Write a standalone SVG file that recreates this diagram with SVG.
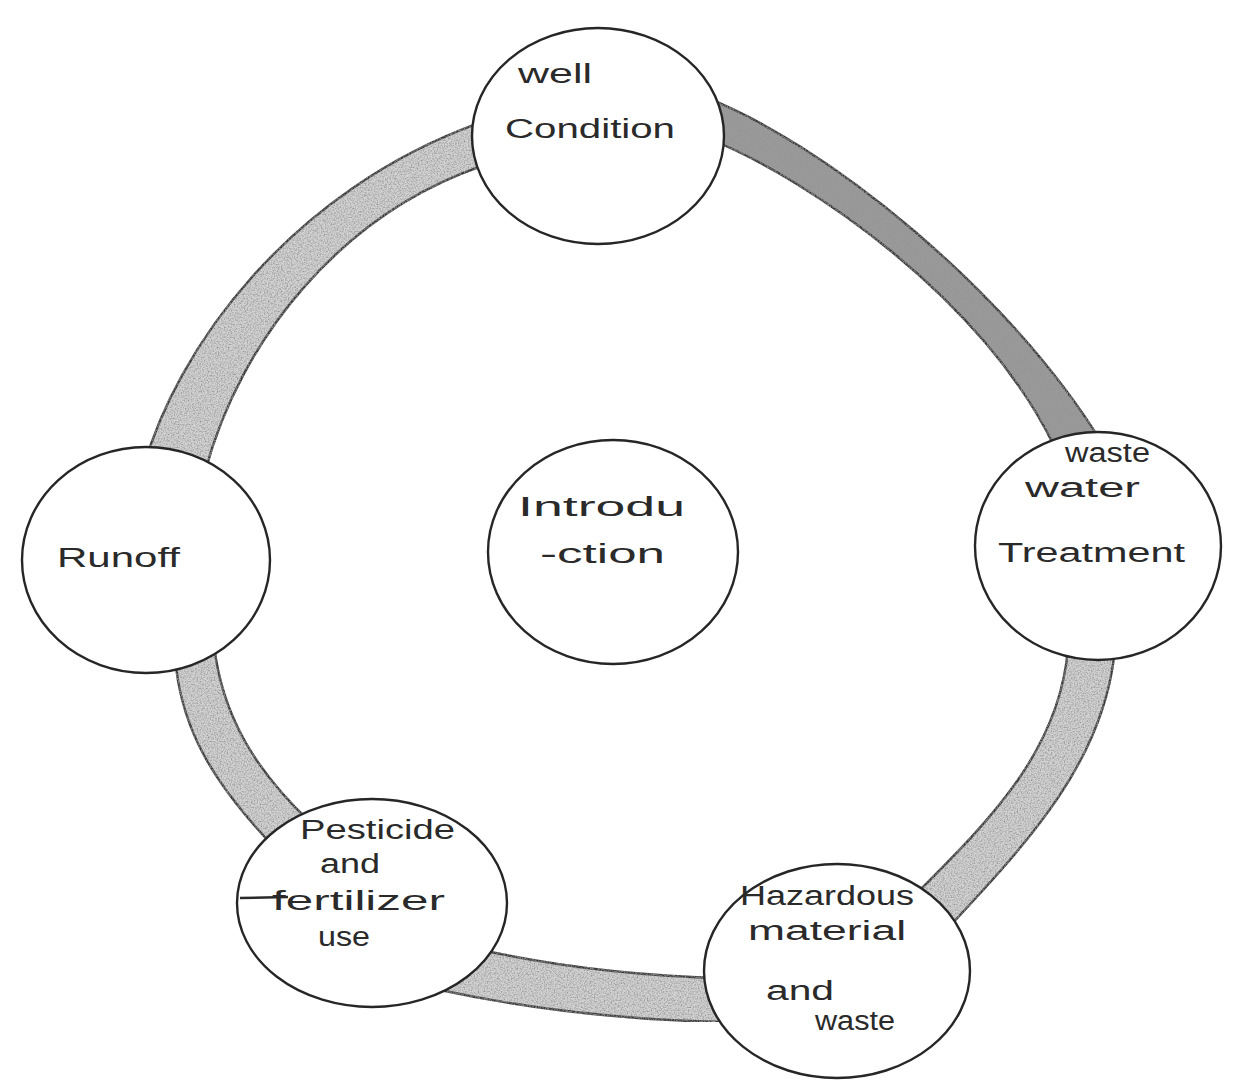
<svg xmlns="http://www.w3.org/2000/svg" width="1239" height="1090" viewBox="0 0 1239 1090">
<style>
.band{fill:#d2d2d2;stroke:#3a3a3a;stroke-width:2.4;stroke-linejoin:round}
.dark{fill:#9a9a9a}
.node{fill:#ffffff;stroke:#262626;stroke-width:2.4}
.lbl{font-family:"Liberation Sans","DejaVu Sans",sans-serif;font-size:27px;fill:#2a2a2a}
</style>
<defs>
<filter id="grain" x="0" y="0" width="1" height="1">
<feTurbulence type="fractalNoise" baseFrequency="0.7" numOctaves="2" seed="3" result="n"/>
<feColorMatrix in="n" type="matrix" values="0 0 0 0 0.3  0 0 0 0 0.3  0 0 0 0 0.3  0 0 0 2.2 -0.85" result="g"/>
<feComposite in="g" in2="SourceGraphic" operator="in" result="t"/>
<feMerge><feMergeNode in="SourceGraphic"/><feMergeNode in="t"/></feMerge>
</filter>
</defs>
<rect width="1239" height="1090" fill="#ffffff"/>
<g id="connectors">
<path class="band" filter="url(#grain)" d="M143,470 C175,350 290,190 482,122 L482,166 C340,215 240,340 205,472 Z"/>
<path class="band dark" filter="url(#grain)" d="M702,96 C820,140 1010,290 1105,448 L1055,448 C985,300 810,180 712,140 Z"/>
<path class="band" filter="url(#grain)" d="M1115,648 C1105,760 1030,840 948,928 L918,892 C990,820 1060,750 1068,648 Z"/>
<path class="band" filter="url(#grain)" d="M175,655 C180,730 215,785 275,848 L310,822 C255,770 222,715 214,645 Z"/>
<path class="band" filter="url(#grain)" d="M468,947 Q590,975 724,978 L730,1022 Q580,1020 440,990 Z"/>
</g>
<g id="node-well-condition">
<ellipse class="node" cx="598" cy="136" rx="126" ry="108"/>
<text class="lbl" x="518" y="83" textLength="74" lengthAdjust="spacingAndGlyphs">well</text>
<text class="lbl" x="505" y="138" textLength="170" lengthAdjust="spacingAndGlyphs">Condition</text>
</g>
<g id="node-waste-water">
<ellipse class="node" cx="1098" cy="546" rx="123" ry="114"/>
<text class="lbl" x="1065" y="462" textLength="85" lengthAdjust="spacingAndGlyphs" font-size="23">waste</text>
<text class="lbl" x="1025" y="497" textLength="115" lengthAdjust="spacingAndGlyphs">water</text>
<text class="lbl" x="998" y="562" textLength="187" lengthAdjust="spacingAndGlyphs">Treatment</text>
</g>
<g id="node-hazardous">
<ellipse class="node" cx="837" cy="971" rx="133" ry="107"/>
<text class="lbl" x="740" y="905" textLength="174" lengthAdjust="spacingAndGlyphs">Hazardous</text>
<text class="lbl" x="748" y="940" textLength="158" lengthAdjust="spacingAndGlyphs">material</text>
<text class="lbl" x="766" y="1000" textLength="68" lengthAdjust="spacingAndGlyphs">and</text>
<text class="lbl" x="815" y="1030" textLength="80" lengthAdjust="spacingAndGlyphs" font-size="23">waste</text>
</g>
<g id="node-pesticide">
<ellipse class="node" cx="372" cy="903" rx="135" ry="104"/>
<text class="lbl" x="300" y="839" textLength="155" lengthAdjust="spacingAndGlyphs">Pesticide</text>
<text class="lbl" x="320" y="873" textLength="60" lengthAdjust="spacingAndGlyphs">and</text>
<text class="lbl" x="272" y="910" textLength="173" lengthAdjust="spacingAndGlyphs">fertilizer</text>
<text class="lbl" x="318" y="946" textLength="52" lengthAdjust="spacingAndGlyphs" font-size="23">use</text>
<line x1="240" y1="898" x2="288" y2="897" stroke="#2a2a2a" stroke-width="2.5"/>
</g>
<g id="node-runoff">
<ellipse class="node" cx="146" cy="560" rx="124" ry="113"/>
<text class="lbl" x="57" y="567" textLength="123" lengthAdjust="spacingAndGlyphs">Runoff</text>
</g>
<g id="node-introduction">
<ellipse class="node" cx="613" cy="552" rx="125" ry="112"/>
<text class="lbl" x="518" y="516" textLength="167" lengthAdjust="spacingAndGlyphs" font-size="30">Introdu</text>
<text class="lbl" x="540" y="563" textLength="125" lengthAdjust="spacingAndGlyphs" font-size="30">-ction</text>
</g>
</svg>
